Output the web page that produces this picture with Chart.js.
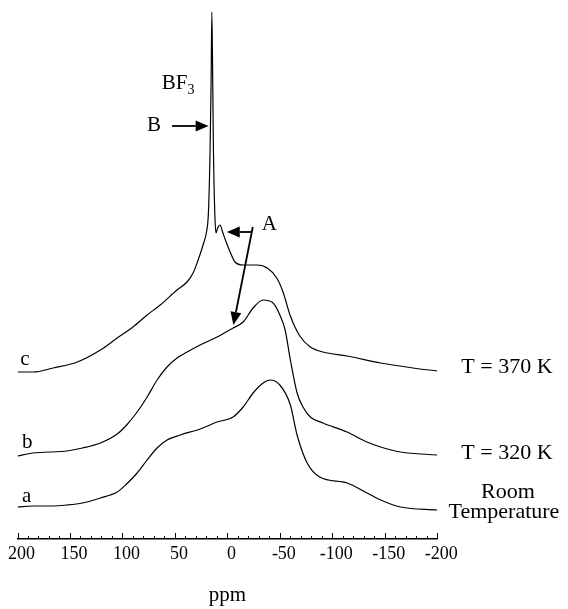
<!DOCTYPE html>
<html lang="en">
<head>
<meta charset="UTF-8">
<title>BF3 spectra vs temperature</title>
<script src="https://cdn.jsdelivr.net/npm/chart.js@4.4.0/dist/chart.umd.min.js"></script>
<style>
  body { margin: 0; background: #fff; }
  canvas { display: block; }
</style>
</head>
<body>
<canvas id="spectra" width="568" height="609"></canvas>
<script>
// chemical shift (ppm) and stacked intensity
const ppmC = [200, 185, 166, 143, 121, 105, 90, 76.5, 64, 48, 38.5, 32.7, 27.9, 23.2, 19.6, 18.1, 16.5, 15.5, 14.8, 14.0,
              13.3, 12.0, 10.9, 9.3, 7.0, 4.6, 1.2, -2.6, -7.3, -15, -28, -38, -47, -53, -60, -69, -79, -91, -114, -146, -177, -200];
const valC = [167, 167, 171, 177, 189, 201, 212, 224, 234, 249, 257, 266, 279, 294, 309, 326, 389, 459, 527, 459,
              389, 326, 306, 311, 314, 307, 297, 287, 277, 274, 274, 271, 261, 247, 223, 203, 192, 187, 183, 176, 171, 168];

const ppmB = [200, 185, 169, 153, 138, 121, 105, 96, 86, 76.5, 67, 57.5, 48, 38.4, 26, 9.8, -5.4, -15, -24.5, -34,
              -43.5, -50, -55, -60, -66.4, -72, -79, -91, -114, -133, -146, -165, -200];
const valB = [83, 86, 87, 88, 91, 96, 105, 114, 127, 142, 159, 172, 181, 187, 194, 202, 211, 217, 231, 239,
              236, 224, 209, 179, 146, 132, 122, 116, 107, 97, 92, 87, 84];

const ppmA = [200, 185, 169, 153, 138, 121, 105, 96, 86, 76.5, 67, 57.5, 45, 26, 9.8, -5.4, -15, -24.5, -34, -40.7,
              -50, -60, -66.4, -76, -88, -114, -133, -146, -165, -200];
const valA = [32, 33, 33, 34, 36, 41, 47, 55, 66, 79, 91, 99, 104, 110, 117, 122, 132, 146, 156, 159,
              154, 134, 104, 76, 62, 56, 46, 39, 32, 29];

const xTicks = [200, 150, 100, 50, 0, -50, -100, -150, -200];

// labels and arrows, placed in data units (ppm, intensity)
const labels = [
  { text: 'c', ppm: 197.4, val: 174, align: 'left', size: 21 },
  { text: 'b', ppm: 195.8, val: 91, align: 'left', size: 21 },
  { text: 'a', ppm: 195.8, val: 37, align: 'left', size: 21 },
  { text: 'B', ppm: 76.5, val: 408, align: 'left', size: 21 },
  { text: 'A', ppm: -32.8, val: 309, align: 'left', size: 21 },
  { text: 'T = 370 K', ppm: -266.4, val: 166, align: 'center', size: 22 },
  { text: 'T = 320 K', ppm: -266.4, val: 80, align: 'center', size: 22 },
  { text: 'Room', ppm: -267.3, val: 41, align: 'center', size: 22 },
  { text: 'Temperature', ppm: -263.5, val: 21, align: 'center', size: 22 }
];
const arrows = [
  { from: [52.7, 413], to: [17.9, 413] },
  { from: [-23.2, 307], to: [0.6, 307] },
  { from: [-24.2, 312], to: [-5.7, 214] }
];

const serif = '"Liberation Serif", "Times New Roman", serif';

function toSeries(xs, ys) {
  return xs.map((v, i) => ({ x: v, y: ys[i] }));
}

function drawArrow(ctx, x0, y0, x1, y1) {
  const ang = Math.atan2(y1 - y0, x1 - x0);
  const len = 13, half = 5.5;
  const bx = x1 - len * Math.cos(ang), by = y1 - len * Math.sin(ang);
  ctx.beginPath();
  ctx.moveTo(x0, y0);
  ctx.lineTo(bx, by);
  ctx.lineWidth = 1.8;
  ctx.stroke();
  ctx.beginPath();
  ctx.moveTo(x1, y1);
  ctx.lineTo(bx + half * Math.sin(ang), by - half * Math.cos(ang));
  ctx.lineTo(bx - half * Math.sin(ang), by + half * Math.cos(ang));
  ctx.closePath();
  ctx.fill();
}

const annotate = {
  id: 'annotate',
  afterDraw(chart) {
    const { ctx, scales: { x, y } } = chart;
    ctx.save();
    ctx.strokeStyle = '#000';
    ctx.fillStyle = '#000';

    // tick marks pointing up from the axis line
    const base = y.getPixelForValue(0);
    ctx.lineWidth = 1;
    for (let v = -200; v <= 200; v += 10) {
      const px = Math.round(x.getPixelForValue(v)) + 0.5;
      const len = v % 50 === 0 ? 6 : 3;
      ctx.beginPath();
      ctx.moveTo(px, base);
      ctx.lineTo(px, base - len);
      ctx.stroke();
    }

    ctx.textBaseline = 'alphabetic';
    labels.forEach(l => {
      ctx.font = l.size + 'px ' + serif;
      ctx.textAlign = l.align;
      ctx.fillText(l.text, x.getPixelForValue(l.ppm), y.getPixelForValue(l.val));
    });

    // BF3 with subscript
    const bx = x.getPixelForValue(62.5), by = y.getPixelForValue(450);
    ctx.font = '21px ' + serif;
    ctx.textAlign = 'left';
    ctx.fillText('BF', bx, by);
    const w = ctx.measureText('BF').width;
    ctx.font = '14px ' + serif;
    ctx.fillText('3', bx + w, by + 5);

    arrows.forEach(a => {
      drawArrow(ctx,
        x.getPixelForValue(a.from[0]), y.getPixelForValue(a.from[1]),
        x.getPixelForValue(a.to[0]), y.getPixelForValue(a.to[1]));
    });
    ctx.restore();
  }
};

const lineStyle = {
  borderColor: '#000',
  borderWidth: 1.2,
  pointRadius: 0,
  fill: false,
  cubicInterpolationMode: 'monotone'
};

new Chart(document.getElementById('spectra'), {
  type: 'line',
  data: {
    datasets: [
      { label: 'c', data: toSeries(ppmC, valC), ...lineStyle },
      { label: 'b', data: toSeries(ppmB, valB), ...lineStyle },
      { label: 'a', data: toSeries(ppmA, valA), ...lineStyle }
    ]
  },
  options: {
    responsive: false,
    animation: false,
    layout: { padding: { left: 17.3, right: 130.7, top: 0, bottom: 0 } },
    plugins: {
      legend: { display: false },
      tooltip: { enabled: false }
    },
    scales: {
      x: {
        type: 'linear',
        reverse: true,
        min: -200,
        max: 200,
        afterBuildTicks: s => { s.ticks = xTicks.map(v => ({ value: v })); },
        afterFit: s => { s.height = 70; },
        grid: { display: false, drawTicks: false },
        border: { display: true, color: '#000', width: 1.5 },
        ticks: {
          color: '#000',
          padding: 4,
          labelOffset: 4,
          maxRotation: 0,
          autoSkip: false,
          font: { family: serif, size: 18 }
        },
        title: {
          display: true,
          text: 'ppm',
          color: '#000',
          padding: { top: 0, bottom: 1 },
          font: { family: serif, size: 21 }
        }
      },
      y: {
        display: false,
        min: 0,
        max: 539
      }
    }
  },
  plugins: [annotate]
});
</script>
</body>
</html>
